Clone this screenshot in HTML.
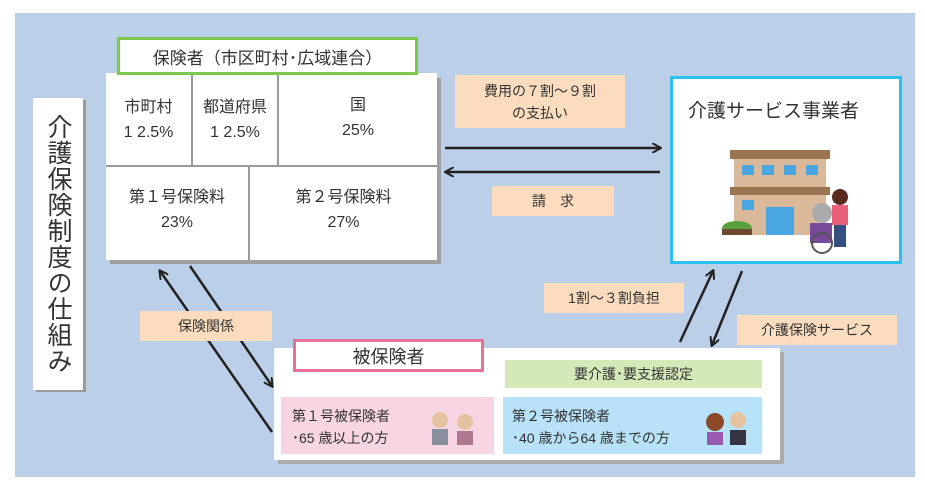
<!DOCTYPE html>
<html><head><meta charset="utf-8"><style>
body{margin:0;width:925px;height:489px;background:#fff;position:relative;overflow:hidden;font-family:"Liberation Sans","Noto Sans CJK JP",sans-serif;color:#333}
.a{position:absolute;box-sizing:border-box}
.c{display:flex;align-items:center;justify-content:center;text-align:center}
.pe{background:#fcdcbf;font-size:14px}
</style></head><body>
<div class="a" style="left:15px;top:13px;width:900px;height:464px;background:#bccfe9"></div>
<div class="a" style="left:36px;top:100px;width:50px;height:292px;background:#9a9a9a"></div>
<div class="a c" style="left:33px;top:98px;width:50px;height:292px;background:#fff;writing-mode:vertical-rl;font-size:25px;letter-spacing:1px">介護保険制度の仕組み</div>
<div class="a" style="left:110px;top:78px;width:331px;height:186px;background:#a0a0a0"></div>
<div class="a" style="left:106px;top:73px;width:331px;height:187px;background:#fff"></div>
<div class="a" style="left:106px;top:165px;width:331px;height:2px;background:#999"></div>
<div class="a" style="left:191px;top:73px;width:2px;height:92px;background:#999"></div>
<div class="a" style="left:277px;top:73px;width:2px;height:92px;background:#999"></div>
<div class="a" style="left:248px;top:167px;width:2px;height:93px;background:#999"></div>
<div class="a c" style="left:106px;top:95px;width:85px;height:50px;font-size:16px;line-height:25px">市町村<br>1 2.5%</div>
<div class="a c" style="left:193px;top:95px;width:84px;height:50px;font-size:16px;line-height:25px">都道府県<br>1 2.5%</div>
<div class="a c" style="left:279px;top:93px;width:158px;height:50px;font-size:16px;line-height:25px">国<br>25%</div>
<div class="a c" style="left:106px;top:185px;width:142px;height:50px;font-size:16px;line-height:25px">第１号保険料<br>23%</div>
<div class="a c" style="left:250px;top:185px;width:187px;height:50px;font-size:16px;line-height:25px">第２号保険料<br>27%</div>
<div class="a c" style="left:117px;top:37px;width:301px;height:38px;background:#fff;border:3px solid #7ec850;font-size:17px">保険者（市区町村･広域連合）</div>
<div class="a" style="left:670px;top:76px;width:232px;height:188px;background:#fff;border:3px solid #2cc0ee"></div>
<div class="a" style="left:688px;top:96px;font-size:19px">介護サービス事業者</div>
<svg class="a" style="left:722px;top:145px" width="130" height="110">
<rect x="8" y="5" width="100" height="9" fill="#9b7450"/>
<rect x="12" y="14" width="92" height="28" fill="#d9b99a"/>
<rect x="8" y="42" width="100" height="8" fill="#9b7450"/>
<rect x="12" y="50" width="92" height="40" fill="#d9b99a"/>
<g fill="#4aa6e0"><rect x="20" y="20" width="12" height="10"/><rect x="40" y="20" width="12" height="10"/><rect x="62" y="20" width="12" height="10"/><rect x="84" y="20" width="12" height="10"/><rect x="20" y="55" width="12" height="10"/><rect x="44" y="62" width="28" height="28"/></g>
<ellipse cx="15" cy="83" rx="15" ry="7" fill="#5aa040"/><rect x="0" y="84" width="30" height="6" fill="#6b4a30"/>
<circle cx="100" cy="68" r="10" fill="#aaa"/><rect x="88" y="78" width="22" height="20" fill="#7a4a9a"/>
<circle cx="100" cy="98" r="10" fill="none" stroke="#555" stroke-width="2"/>
<circle cx="118" cy="52" r="8" fill="#5a2a20"/><rect x="110" y="60" width="16" height="20" fill="#e8607a"/><rect x="112" y="80" width="12" height="22" fill="#355080"/>
</svg>
<div class="a" style="left:278px;top:352px;width:506px;height:112px;background:#aaa"></div>
<div class="a" style="left:274px;top:348px;width:506px;height:112px;background:#fff"></div>
<div class="a c" style="left:293px;top:339px;width:191px;height:33px;background:#fff;border:3px solid #e8709c;font-size:18px">被保険者</div>
<div class="a c" style="left:505px;top:360px;width:257px;height:28px;background:#d5e8b8;font-size:14px">要介護･要支援認定</div>
<div class="a" style="left:281px;top:397px;width:213px;height:57px;background:#f8d5e3"></div>
<div class="a" style="left:292px;top:405px;font-size:14px;line-height:22px">第１号被保険者<br>･65 歳以上の方</div>
<div class="a" style="left:503px;top:397px;width:259px;height:57px;background:#b8e2f8"></div>
<div class="a" style="left:512px;top:405px;font-size:14px;line-height:22px">第２号被保険者<br>･40 歳から64 歳までの方</div>
<svg class="a" style="left:425px;top:405px" width="340" height="45">
<circle cx="15" cy="15" r="8" fill="#e6c3a0"/><rect x="7" y="24" width="16" height="16" fill="#8a8fa0"/>
<circle cx="40" cy="17" r="8" fill="#e6c3a0"/><rect x="32" y="26" width="16" height="14" fill="#b07890"/>
<circle cx="290" cy="17" r="9" fill="#8a4a28"/><rect x="282" y="27" width="16" height="13" fill="#9a5ab0"/>
<circle cx="313" cy="15" r="8" fill="#e6c3a0"/><rect x="305" y="25" width="16" height="15" fill="#334"/>
</svg>
<svg class="a" style="left:0;top:0" width="925" height="489">
<defs><marker id="m" markerWidth="10" markerHeight="10" refX="8" refY="5" orient="auto" markerUnits="userSpaceOnUse"><path d="M0,0 L9,5 L0,10" fill="none" stroke="#222" stroke-width="2"/></marker></defs>
<g stroke="#222" stroke-width="2.5" fill="none">
<line x1="445" y1="148" x2="660" y2="148" marker-end="url(#m)"/>
<line x1="660" y1="172" x2="446" y2="172" marker-end="url(#m)"/>
<line x1="272" y1="432" x2="160" y2="271" marker-end="url(#m)"/>
<line x1="190" y1="266" x2="272" y2="386" marker-end="url(#m)"/>
<line x1="680" y1="342" x2="713" y2="271" marker-end="url(#m)"/>
<line x1="742" y1="271" x2="712" y2="345" marker-end="url(#m)"/>
</g></svg>
<div class="a c pe" style="left:455px;top:75px;width:170px;height:53px;line-height:22px">費用の７割～９割<br>の支払い</div>
<div class="a c pe" style="left:492px;top:186px;width:122px;height:30px">請　求</div>
<div class="a c pe" style="left:140px;top:311px;width:132px;height:30px">保険関係</div>
<div class="a c pe" style="left:544px;top:283px;width:140px;height:30px">1割～３割負担</div>
<div class="a c pe" style="left:737px;top:315px;width:160px;height:30px">介護保険サービス</div>
</body></html>
